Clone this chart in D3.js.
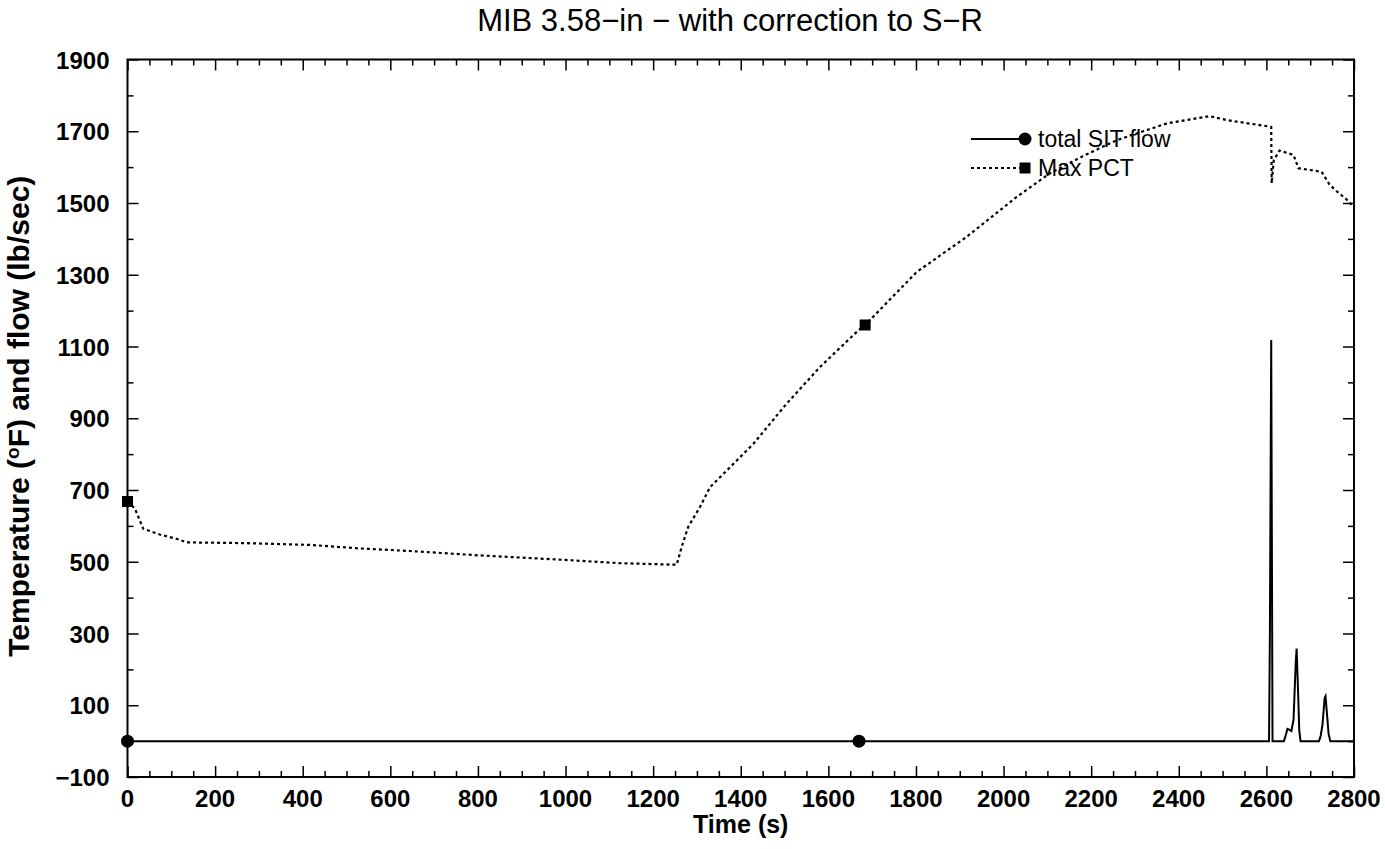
<!DOCTYPE html>
<html>
<head>
<meta charset="utf-8">
<script src="https://cdn.jsdelivr.net/npm/d3@7"></script>
<style>
  body { margin: 0; background: #fff; }
  text { font-family: "Liberation Sans", Arial, sans-serif; fill: #000; }
</style>
</head>
<body>
<svg id="canvas" width="1385" height="849"></svg>
<script>
  // Max PCT curve (time s, temperature F)
  var pctTime = [0, 17, 36, 74, 112, 135, 264, 417, 531, 645, 800, 1000, 1124, 1245, 1254, 1265, 1280,
    1307, 1330, 1376, 1429, 1505, 1581, 1665, 1684, 1802, 1916, 2030, 2105, 2180, 2258, 2373, 2471,
    2510, 2607, 2611, 2612, 2617, 2630, 2662, 2673, 2726, 2745, 2764, 2783, 2800];
  var pctValue = [668, 648, 592, 576, 564, 554, 552, 547, 537, 530, 518, 505, 496, 492, 492, 541, 597,
    653, 708, 764, 829, 941, 1043, 1141, 1160, 1308, 1406, 1517, 1582, 1630, 1675, 1722, 1742,
    1731, 1713, 1712, 1555, 1620, 1646, 1634, 1597, 1587, 1550, 1529, 1510, 1488];

  // total SIT flow (time s, lb/sec)
  var flowTime = [0, 1670, 2606, 2608, 2611, 2614, 2640, 2645, 2648, 2652, 2657, 2662, 2667, 2669,
    2672, 2675, 2678, 2720, 2724, 2728, 2733, 2735, 2738, 2742, 2746, 2800];
  var flowValue = [0, 0, 0, 300, 1118, 0, 0, 20, 34, 32, 28, 60, 220, 258,
    150, 30, 0, 0, 15, 45, 120, 125, 80, 20, 0, 0];

  // where the symbols sit on each curve
  var flowMarkTime = [0, 1670];
  var pctMarkTime = [0, 1684];

  var xTickLabels = [0, 200, 400, 600, 800, 1000, 1200, 1400, 1600, 1800, 2000, 2200, 2400, 2600, 2800];
  var yTickLabels = [-100, 100, 300, 500, 700, 900, 1100, 1300, 1500, 1700, 1900];

  var seriesNames = ['total SIT flow', 'Max PCT'];

  var margin = { top: 59.5, right: 31, bottom: 72, left: 127.5 };
  var width = 1385, height = 849;

  var canvas = d3.select('#canvas');

  var x = d3.scaleLinear().domain([0, 2800]).range([margin.left, width - margin.right]);
  var y = d3.scaleLinear().domain([-100, 1900]).range([height - margin.bottom, margin.top]);

  var pctData = pctTime.map(function (t, i) { return [t, pctValue[i]]; });
  var flowData = flowTime.map(function (t, i) { return [t, flowValue[i]]; });

  function lookup(times, values, t) {
    var i = times.indexOf(t);
    return values[i];
  }

  var line = d3.line()
    .x(function (d) { return x(d[0]); })
    .y(function (d) { return y(d[1]); });

  // ticks, all pointing inward, on all four sides
  var xMinor = d3.range(0, 2801, 50);
  var yMinor = d3.range(-100, 1901, 100);

  function majorX(v) { return v % 200 === 0; }
  function majorY(v) { return (v + 100) % 200 === 0; }

  canvas.append('g')
    .attr('transform', 'translate(0,' + y(-100) + ')')
    .call(d3.axisTop(x).tickValues(xMinor).tickFormat('').tickSizeOuter(0))
    .call(function (g) {
      g.select('.domain').remove();
      g.selectAll('.tick line').attr('y2', function (d) { return majorX(d) ? -11 : -6; }).attr('stroke-width', 1.5);
    });

  canvas.append('g')
    .attr('transform', 'translate(0,' + y(1900) + ')')
    .call(d3.axisBottom(x).tickValues(xMinor).tickFormat('').tickSizeOuter(0))
    .call(function (g) {
      g.select('.domain').remove();
      g.selectAll('.tick line').attr('y2', function (d) { return majorX(d) ? 11 : 6; }).attr('stroke-width', 1.5);
    });

  canvas.append('g')
    .attr('transform', 'translate(' + x(0) + ',0)')
    .call(d3.axisRight(y).tickValues(yMinor).tickFormat('').tickSizeOuter(0))
    .call(function (g) {
      g.select('.domain').remove();
      g.selectAll('.tick line').attr('x2', function (d) { return majorY(d) ? 11 : 6; }).attr('stroke-width', 1.5);
    });

  canvas.append('g')
    .attr('transform', 'translate(' + x(2800) + ',0)')
    .call(d3.axisLeft(y).tickValues(yMinor).tickFormat('').tickSizeOuter(0))
    .call(function (g) {
      g.select('.domain').remove();
      g.selectAll('.tick line').attr('x2', function (d) { return majorY(d) ? -11 : -6; }).attr('stroke-width', 1.5);
    });

  // tick labels
  canvas.append('g')
    .selectAll('text')
    .data(xTickLabels)
    .enter()
    .append('text')
    .attr('x', function (d) { return x(d); })
    .attr('y', y(-100) + 30)
    .attr('text-anchor', 'middle')
    .attr('font-size', 24)
    .attr('font-weight', 'bold')
    .text(function (d) { return d; });

  canvas.append('g')
    .selectAll('text')
    .data(yTickLabels)
    .enter()
    .append('text')
    .attr('x', x(0) - 18)
    .attr('y', function (d) { return y(d) + 9; })
    .attr('text-anchor', 'end')
    .attr('font-size', 24)
    .attr('font-weight', 'bold')
    .text(function (d) { return d < 0 ? '\u2212' + (-d) : d; });

  // frame
  canvas.append('rect')
    .attr('x', x(0))
    .attr('y', y(1900))
    .attr('width', x(2800) - x(0))
    .attr('height', y(-100) - y(1900))
    .attr('fill', 'none')
    .attr('stroke', '#000')
    .attr('stroke-width', 2);

  // curves
  canvas.append('path')
    .attr('d', line(pctData))
    .attr('fill', 'none')
    .attr('stroke', '#000')
    .attr('stroke-width', 2.2)
    .attr('stroke-dasharray', '3,3');

  canvas.append('path')
    .attr('d', line(flowData))
    .attr('fill', 'none')
    .attr('stroke', '#000')
    .attr('stroke-width', 2);

  canvas.append('g')
    .selectAll('circle')
    .data(flowMarkTime)
    .enter()
    .append('circle')
    .attr('cx', function (d) { return x(d); })
    .attr('cy', function (d) { return y(lookup(flowTime, flowValue, d)); })
    .attr('r', 6.5);

  canvas.append('g')
    .selectAll('rect')
    .data(pctMarkTime)
    .enter()
    .append('rect')
    .attr('x', function (d) { return x(d) - 5.5; })
    .attr('y', function (d) { return y(lookup(pctTime, pctValue, d)) - 5.5; })
    .attr('width', 11)
    .attr('height', 11);

  // legend
  var legend = canvas.append('g').attr('transform', 'translate(971,139)');

  legend.append('line').attr('x1', 0).attr('x2', 54).attr('y1', 0).attr('y2', 0)
    .attr('stroke', '#000').attr('stroke-width', 2);
  legend.append('circle').attr('cx', 54).attr('cy', 0).attr('r', 6.5);
  legend.append('text').attr('x', 67).attr('y', 8).attr('font-size', 23).text(seriesNames[0]);

  legend.append('line').attr('x1', 0).attr('x2', 54).attr('y1', 29).attr('y2', 29)
    .attr('stroke', '#000').attr('stroke-width', 2.2).attr('stroke-dasharray', '3,3');
  legend.append('rect').attr('x', 48.5).attr('y', 23.5).attr('width', 11).attr('height', 11);
  legend.append('text').attr('x', 67).attr('y', 37).attr('font-size', 23).text(seriesNames[1]);

  // title and axis titles
  canvas.append('text')
    .attr('x', 730)
    .attr('y', 31)
    .attr('text-anchor', 'middle')
    .attr('font-size', 31)
    .text('MIB 3.58\u2212in \u2212 with correction to S\u2212R');

  canvas.append('text')
    .attr('x', x(1400))
    .attr('y', 833)
    .attr('text-anchor', 'middle')
    .attr('font-size', 25)
    .attr('font-weight', 'bold')
    .text('Time (s)');

  var yLabel = canvas.append('text')
    .attr('transform', 'translate(29,' + ((y(1900) + y(-100)) / 2 - 2) + ') rotate(-90)')
    .attr('text-anchor', 'middle')
    .attr('font-size', 30)
    .attr('font-weight', 'bold');
  yLabel.append('tspan').text('Temperature (');
  yLabel.append('tspan').attr('dy', -10).attr('font-size', 19).text('o');
  yLabel.append('tspan').attr('dy', 10).text('F) and flow (lb/sec)');
</script>
</body>
</html>
